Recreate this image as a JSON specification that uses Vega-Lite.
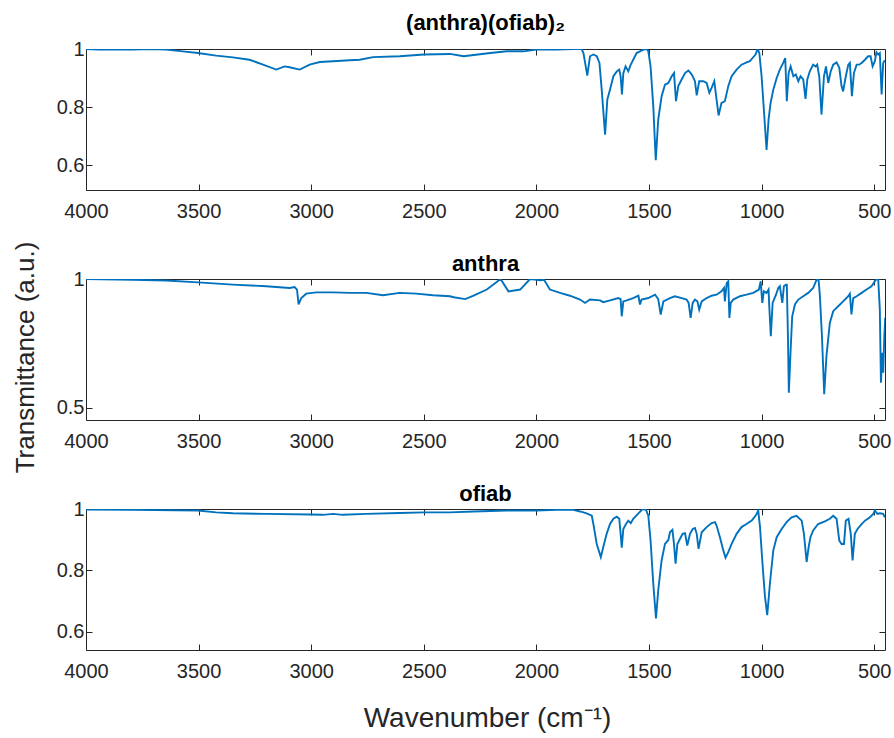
{
  "$schema": "https://vega.github.io/schema/vega-lite/v6.json",
  "background": "white",
  "padding": {"left": 12, "top": 12, "right": 5, "bottom": 5},
  "config": {
    "view": {"stroke": null},
    "font": "Liberation Sans",
    "axis": {
      "grid": false,
      "domainColor": "#262626",
      "domainWidth": 1,
      "tickColor": "#262626",
      "tickWidth": 1,
      "tickSize": -6,
      "labelFont": "Liberation Sans",
      "labelFontSize": 20,
      "labelColor": "#262626",
      "labelFlush": false,
      "labelOverlap": false,
      "titleFont": "Liberation Sans",
      "titleFontSize": 27,
      "titleFontWeight": "normal",
      "titleColor": "#262626"
    },
    "title": {"font": "Liberation Sans", "fontSize": 22, "fontWeight": "bold", "color": "#000000", "frame": "group", "anchor": "middle"}
  },
  "datasets": {
    "s1": [
      {"w":4000,"t":1.0},{"w":3941,"t":0.998},{"w":3792,"t":0.998},{"w":3718,"t":1.0},{"w":3644,"t":0.998},{"w":3570,"t":0.992},{"w":3503,"t":0.986},{"w":3422,"t":0.977},{"w":3348,"t":0.971},{"w":3274,"t":0.963},{"w":3214,"t":0.946},{"w":3155,"t":0.929},{"w":3118,"t":0.94},{"w":3096,"t":0.937},{"w":3051,"t":0.929},{"w":3007,"t":0.946},{"w":2962,"t":0.955},{"w":2903,"t":0.958},{"w":2829,"t":0.961},{"w":2785,"t":0.963},{"w":2725,"t":0.972},{"w":2607,"t":0.975},{"w":2500,"t":0.981},{"w":2384,"t":0.983},{"w":2323,"t":0.975},{"w":2205,"t":0.986},{"w":2131,"t":0.992},{"w":2058,"t":0.992},{"w":2000,"t":0.998},{"w":1910,"t":0.998},{"w":1836,"t":1.0},{"w":1799,"t":1.0},
      {"w":1791,"t":0.986},{"w":1774,"t":0.908},{"w":1762,"t":0.975},{"w":1747,"t":0.981},{"w":1732,"t":0.975},{"w":1720,"t":0.952},{"w":1710,"t":0.86},{"w":1695,"t":0.705},{"w":1685,"t":0.826},{"w":1673,"t":0.86},{"w":1658,"t":0.906},{"w":1643,"t":0.923},{"w":1632,"t":0.929},{"w":1626,"t":0.906},{"w":1620,"t":0.843},{"w":1614,"t":0.917},{"w":1604,"t":0.94},{"w":1592,"t":0.923},{"w":1581,"t":0.946},{"w":1570,"t":0.963},{"w":1555,"t":0.986},{"w":1540,"t":0.992},{"w":1525,"t":0.998},{"w":1510,"t":1.0},{"w":1503,"t":0.992},{"w":1493,"t":0.94},{"w":1481,"t":0.803},{"w":1470,"t":0.617},{"w":1459,"t":0.757},{"w":1444,"t":0.837},{"w":1429,"t":0.877},{"w":1414,"t":0.883},{"w":1399,"t":0.906},{"w":1389,"t":0.917},{"w":1380,"t":0.82},{"w":1370,"t":0.872},{"w":1355,"t":0.895},{"w":1340,"t":0.917},{"w":1325,"t":0.926},{"w":1315,"t":0.917},{"w":1306,"t":0.906},{"w":1296,"t":0.889},{"w":1288,"t":0.84},{"w":1277,"t":0.889},{"w":1259,"t":0.889},{"w":1244,"t":0.883},{"w":1232,"t":0.849},{"w":1222,"t":0.866},{"w":1210,"t":0.889},{"w":1200,"t":0.826},{"w":1191,"t":0.771},{"w":1178,"t":0.814},{"w":1163,"t":0.82},{"w":1148,"t":0.872},{"w":1133,"t":0.906},{"w":1111,"t":0.929},{"w":1089,"t":0.946},{"w":1067,"t":0.954},{"w":1052,"t":0.958},{"w":1040,"t":0.969},{"w":1027,"t":0.981},{"w":1018,"t":1.0},{"w":1010,"t":0.986},{"w":1000,"t":0.906},{"w":988,"t":0.769},{"w":978,"t":0.652},{"w":969,"t":0.757},{"w":960,"t":0.814},{"w":948,"t":0.86},{"w":933,"t":0.9},{"w":919,"t":0.929},{"w":904,"t":0.952},{"w":895,"t":0.969},{"w":888,"t":0.82},{"w":880,"t":0.917},{"w":871,"t":0.94},{"w":859,"t":0.906},{"w":848,"t":0.912},{"w":837,"t":0.889},{"w":827,"t":0.906},{"w":815,"t":0.895},{"w":805,"t":0.828},{"w":797,"t":0.895},{"w":786,"t":0.923},{"w":771,"t":0.946},{"w":760,"t":0.94},{"w":753,"t":0.946},{"w":744,"t":0.906},{"w":734,"t":0.774},{"w":723,"t":0.906},{"w":714,"t":0.94},{"w":704,"t":0.883},{"w":693,"t":0.923},{"w":682,"t":0.946},{"w":667,"t":0.954},{"w":655,"t":0.935},{"w":645,"t":0.872},{"w":638,"t":0.854},{"w":626,"t":0.906},{"w":615,"t":0.946},{"w":608,"t":0.952},{"w":599,"t":0.837},{"w":590,"t":0.917},{"w":578,"t":0.946},{"w":567,"t":0.946},{"w":556,"t":0.952},{"w":541,"t":0.963},{"w":527,"t":0.975},{"w":516,"t":0.975},{"w":507,"t":0.94},{"w":497,"t":0.958},{"w":490,"t":0.989},{"w":482,"t":0.981},{"w":475,"t":0.986},{"w":467,"t":0.843},{"w":460,"t":0.952},{"w":453,"t":0.961}
    ],
    "s2": [
      {"w":4000,"t":1.0},{"w":3792,"t":0.997},{"w":3644,"t":0.994},{"w":3503,"t":0.987},{"w":3348,"t":0.978},{"w":3200,"t":0.972},{"w":3096,"t":0.965},{"w":3074,"t":0.969},{"w":3063,"t":0.959},{"w":3056,"t":0.901},{"w":3044,"t":0.926},{"w":3022,"t":0.943},{"w":2977,"t":0.948},{"w":2903,"t":0.948},{"w":2829,"t":0.946},{"w":2755,"t":0.946},{"w":2681,"t":0.937},{"w":2607,"t":0.946},{"w":2533,"t":0.943},{"w":2459,"t":0.937},{"w":2384,"t":0.933},{"w":2367,"t":0.929},{"w":2316,"t":0.922},{"w":2279,"t":0.935},{"w":2220,"t":0.959},{"w":2159,"t":1.0},{"w":2124,"t":0.952},{"w":2072,"t":0.959},{"w":2028,"t":1.0},{"w":1999,"t":0.997},{"w":1984,"t":0.995},{"w":1966,"t":0.997},{"w":1940,"t":0.959},{"w":1895,"t":0.946},
      {"w":1851,"t":0.935},{"w":1806,"t":0.92},{"w":1784,"t":0.907},{"w":1762,"t":0.92},{"w":1717,"t":0.917},{"w":1703,"t":0.91},{"w":1673,"t":0.917},{"w":1636,"t":0.926},{"w":1626,"t":0.922},{"w":1621,"t":0.855},{"w":1614,"t":0.913},{"w":1599,"t":0.917},{"w":1570,"t":0.926},{"w":1547,"t":0.935},{"w":1540,"t":0.901},{"w":1533,"t":0.92},{"w":1503,"t":0.926},{"w":1473,"t":0.939},{"w":1459,"t":0.922},{"w":1448,"t":0.862},{"w":1436,"t":0.913},{"w":1407,"t":0.926},{"w":1385,"t":0.933},{"w":1355,"t":0.926},{"w":1333,"t":0.92},{"w":1324,"t":0.907},{"w":1315,"t":0.849},{"w":1306,"t":0.907},{"w":1296,"t":0.92},{"w":1285,"t":0.913},{"w":1277,"t":0.881},{"w":1266,"t":0.913},{"w":1244,"t":0.926},{"w":1222,"t":0.935},{"w":1200,"t":0.939},{"w":1178,"t":0.952},{"w":1167,"t":0.965},{"w":1163,"t":0.913},{"w":1155,"t":0.984},{"w":1148,"t":0.991},{"w":1143,"t":0.849},{"w":1137,"t":0.907},{"w":1126,"t":0.92},{"w":1096,"t":0.933},{"w":1067,"t":0.939},{"w":1037,"t":0.946},{"w":1012,"t":0.959},{"w":1004,"t":0.991},{"w":997,"t":0.907},{"w":990,"t":0.952},{"w":978,"t":0.946},{"w":969,"t":0.959},{"w":966,"t":0.894},{"w":959,"t":0.778},{"w":951,"t":0.907},{"w":936,"t":0.939},{"w":926,"t":0.965},{"w":919,"t":0.972},{"w":908,"t":0.907},{"w":901,"t":0.972},{"w":892,"t":0.978},{"w":888,"t":0.978},{"w":883,"t":0.778},{"w":879,"t":0.558},{"w":871,"t":0.726},{"w":864,"t":0.855},{"w":852,"t":0.901},{"w":837,"t":0.92},{"w":815,"t":0.933},{"w":793,"t":0.946},{"w":771,"t":0.965},{"w":756,"t":0.997},{"w":747,"t":0.997},{"w":741,"t":0.933},{"w":732,"t":0.778},{"w":722,"t":0.552},{"w":712,"t":0.7},{"w":697,"t":0.829},{"w":682,"t":0.875},{"w":660,"t":0.894},{"w":638,"t":0.913},{"w":615,"t":0.933},{"w":608,"t":0.943},{"w":601,"t":0.862},{"w":593,"t":0.926},{"w":578,"t":0.933},{"w":556,"t":0.946},{"w":534,"t":0.959},{"w":512,"t":0.972},{"w":497,"t":0.991},{"w":490,"t":1.0},{"w":482,"t":0.997},{"w":475,"t":0.881},{"w":470,"t":0.597},{"w":464,"t":0.713},{"w":460,"t":0.636},{"w":455,"t":0.778},{"w":451,"t":0.849}
    ],
    "s3": [
      {"w":4000,"t":0.998},{"w":3792,"t":0.997},{"w":3503,"t":0.995},{"w":3422,"t":0.989},{"w":3348,"t":0.986},{"w":3200,"t":0.984},{"w":3002,"t":0.982},{"w":2948,"t":0.981},{"w":2903,"t":0.984},{"w":2859,"t":0.981},{"w":2755,"t":0.984},{"w":2607,"t":0.987},{"w":2500,"t":0.989},{"w":2384,"t":0.989},{"w":2279,"t":0.992},{"w":2131,"t":0.995},{"w":2000,"t":0.995},{"w":1910,"t":0.997},{"w":1836,"t":0.997},
      {"w":1806,"t":0.992},{"w":1777,"t":0.986},{"w":1754,"t":0.978},{"w":1747,"t":0.951},{"w":1732,"t":0.886},{"w":1714,"t":0.843},{"w":1703,"t":0.876},{"w":1688,"t":0.919},{"w":1673,"t":0.951},{"w":1658,"t":0.968},{"w":1643,"t":0.975},{"w":1632,"t":0.968},{"w":1626,"t":0.919},{"w":1621,"t":0.874},{"w":1614,"t":0.935},{"w":1602,"t":0.951},{"w":1592,"t":0.962},{"w":1581,"t":0.954},{"w":1570,"t":0.968},{"w":1547,"t":0.986},{"w":1528,"t":1.0},{"w":1513,"t":0.997},{"w":1503,"t":0.978},{"w":1493,"t":0.897},{"w":1481,"t":0.757},{"w":1469,"t":0.643},{"w":1459,"t":0.735},{"w":1444,"t":0.832},{"w":1429,"t":0.886},{"w":1414,"t":0.899},{"w":1407,"t":0.924},{"w":1396,"t":0.932},{"w":1389,"t":0.886},{"w":1382,"t":0.822},{"w":1374,"t":0.886},{"w":1362,"t":0.903},{"w":1351,"t":0.919},{"w":1340,"t":0.921},{"w":1330,"t":0.881},{"w":1318,"t":0.919},{"w":1306,"t":0.935},{"w":1296,"t":0.938},{"w":1288,"t":0.919},{"w":1280,"t":0.87},{"w":1266,"t":0.924},{"w":1244,"t":0.941},{"w":1222,"t":0.954},{"w":1207,"t":0.957},{"w":1200,"t":0.946},{"w":1185,"t":0.908},{"w":1170,"t":0.865},{"w":1160,"t":0.841},{"w":1148,"t":0.859},{"w":1133,"t":0.886},{"w":1111,"t":0.919},{"w":1089,"t":0.941},{"w":1067,"t":0.951},{"w":1044,"t":0.962},{"w":1030,"t":0.975},{"w":1022,"t":0.984},{"w":1015,"t":0.995},{"w":1007,"t":0.941},{"w":997,"t":0.832},{"w":985,"t":0.714},{"w":975,"t":0.654},{"w":963,"t":0.757},{"w":948,"t":0.865},{"w":933,"t":0.908},{"w":911,"t":0.935},{"w":889,"t":0.957},{"w":867,"t":0.973},{"w":845,"t":0.978},{"w":822,"t":0.962},{"w":812,"t":0.919},{"w":800,"t":0.827},{"w":791,"t":0.876},{"w":783,"t":0.908},{"w":771,"t":0.93},{"w":749,"t":0.951},{"w":719,"t":0.96},{"w":697,"t":0.968},{"w":682,"t":0.978},{"w":667,"t":0.968},{"w":655,"t":0.897},{"w":645,"t":0.886},{"w":634,"t":0.886},{"w":626,"t":0.962},{"w":614,"t":0.968},{"w":604,"t":0.919},{"w":596,"t":0.832},{"w":586,"t":0.919},{"w":574,"t":0.935},{"w":556,"t":0.951},{"w":541,"t":0.962},{"w":519,"t":0.973},{"w":504,"t":0.984},{"w":497,"t":0.995},{"w":486,"t":0.984},{"w":475,"t":0.986},{"w":460,"t":0.984},{"w":453,"t":0.973}
    ]
  },
  "bounds": "flush",
  "spacing": 89,
  "vconcat": [
    {
      "title": {"text": "(anthra)(ofiab)₂", "offset": 4},
      "width": 799, "height": 141,
      "data": {"name": "s1"},
      "layer": [
        {"mark": {"type": "line", "color": "#0072BD", "strokeWidth": 1.9, "clip": true},
         "encoding": {
           "x": {"field": "w", "type": "quantitative", "scale": {"domain": [452, 4000], "reverse": true, "nice": false, "zero": false},
                 "axis": {"orient": "bottom", "values": [4000,3500,3000,2500,2000,1500,1000,500], "format": "d", "labelPadding": 17, "title": null}},
           "y": {"field": "t", "type": "quantitative", "scale": {"domain": [0.514, 1.0], "nice": false, "zero": false},
                 "axis": {"orient": "left", "values": [0.6,0.8,1], "format": "~g", "labelPadding": 8, "title": "Transmittance (a.u.)", "titleFontSize": 26, "titleX": -53, "titleY": 308, "titleBaseline": "alphabetic", "titleAlign": "center", "titleAngle": -90}}
         }},
        {"mark": {"type": "line", "opacity": 0},
         "encoding": {
           "x": {"field": "w", "type": "quantitative", "axis": {"orient": "top", "values": [4000,3500,3000,2500,2000,1500,1000,500], "labels": false, "title": null}},
           "y": {"field": "t", "type": "quantitative", "axis": {"orient": "right", "values": [0.6,0.8,1], "labels": false, "title": null}}
         }}
      ],
      "resolve": {"axis": {"x": "independent", "y": "independent"}}
    },
    {
      "title": {"text": "anthra", "offset": -7},
      "width": 799, "height": 141,
      "data": {"name": "s2"},
      "layer": [
        {"mark": {"type": "line", "color": "#0072BD", "strokeWidth": 1.9, "clip": true},
         "encoding": {
           "x": {"field": "w", "type": "quantitative", "scale": {"domain": [452, 4000], "reverse": true, "nice": false, "zero": false},
                 "axis": {"orient": "bottom", "values": [4000,3500,3000,2500,2000,1500,1000,500], "format": "d", "labelPadding": 17, "title": null}},
           "y": {"field": "t", "type": "quantitative", "scale": {"domain": [0.452, 1.0], "nice": false, "zero": false},
                 "axis": {"orient": "left", "values": [0.5,1], "format": "~g", "labelPadding": 8, "title": null}}
         }},
        {"mark": {"type": "line", "opacity": 0},
         "encoding": {
           "x": {"field": "w", "type": "quantitative", "axis": {"orient": "top", "values": [4000,3500,3000,2500,2000,1500,1000,500], "labels": false, "title": null}},
           "y": {"field": "t", "type": "quantitative", "axis": {"orient": "right", "values": [0.5,1], "labels": false, "title": null}}
         }}
      ],
      "resolve": {"axis": {"x": "independent", "y": "independent"}}
    },
    {
      "title": {"text": "ofiab", "offset": -7},
      "width": 799, "height": 141,
      "data": {"name": "s3"},
      "layer": [
        {"mark": {"type": "line", "color": "#0072BD", "strokeWidth": 1.9, "clip": true},
         "encoding": {
           "x": {"field": "w", "type": "quantitative", "scale": {"domain": [452, 4000], "reverse": true, "nice": false, "zero": false},
                 "axis": {"orient": "bottom", "values": [4000,3500,3000,2500,2000,1500,1000,500], "format": "d", "labelPadding": 17, "title": "Wavenumber (cm⁻¹)", "titleFontSize": 28, "titleX": 401, "titleY": 76, "titleBaseline": "alphabetic", "titleAlign": "center"}},
           "y": {"field": "t", "type": "quantitative", "scale": {"domain": [0.54, 1.0], "nice": false, "zero": false},
                 "axis": {"orient": "left", "values": [0.6,0.8,1], "format": "~g", "labelPadding": 8, "title": null}}
         }},
        {"mark": {"type": "line", "opacity": 0},
         "encoding": {
           "x": {"field": "w", "type": "quantitative", "axis": {"orient": "top", "values": [4000,3500,3000,2500,2000,1500,1000,500], "labels": false, "title": null}},
           "y": {"field": "t", "type": "quantitative", "axis": {"orient": "right", "values": [0.6,0.8,1], "labels": false, "title": null}}
         }}
      ],
      "resolve": {"axis": {"x": "independent", "y": "independent"}}
    }
  ]
}
